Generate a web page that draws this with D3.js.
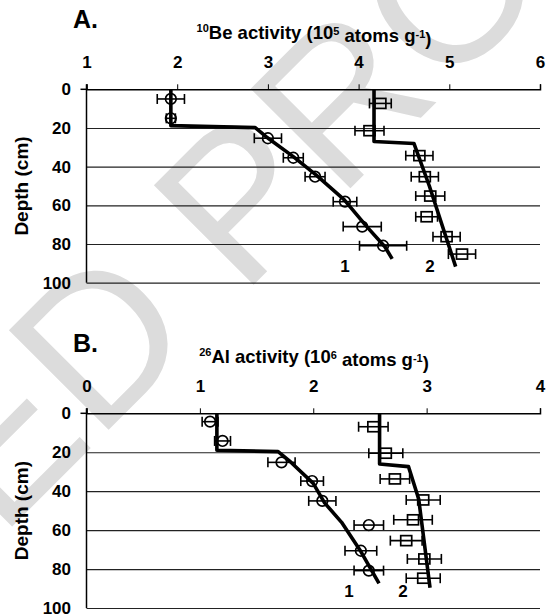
<!DOCTYPE html>
<meta charset='utf-8'>
<div id='chart'></div>
<style type='text/css'>
body { margin: 0; background: #fff; }
svg text { font-family: 'Liberation Sans', Arial, sans-serif; font-weight: bold; fill: #000; }
.tick line { stroke: #000; }
.grid .tick line { stroke: #222; stroke-width: 1.2; }
.grid .domain { display: none; }
</style>
<script src='https://d3js.org/d3.v7.min.js'></script>
<script>

  // depth ticks (cm), shared by both panels
  var depthTicks = [0, 20, 40, 60, 80, 100];

  // panel A: 10Be activity (10^5 atoms/g)
  var beTicks = [1, 2, 3, 4, 5, 6];
  var beProfile1 = [
    {depth: 5, value: 1.93, err: 0.15},
    {depth: 15, value: 1.93, err: 0.05},
    {depth: 25.3, value: 3.0, err: 0.15},
    {depth: 35.4, value: 3.28, err: 0.11},
    {depth: 45.2, value: 3.52, err: 0.11},
    {depth: 58.1, value: 3.85, err: 0.13},
    {depth: 71, value: 4.04, err: 0.21},
    {depth: 80.9, value: 4.27, err: 0.26}
  ];
  var beProfile2 = [
    {depth: 7.3, value: 4.24, err: 0.12},
    {depth: 21.4, value: 4.12, err: 0.16},
    {depth: 34.3, value: 4.67, err: 0.15},
    {depth: 45.2, value: 4.73, err: 0.15},
    {depth: 55.2, value: 4.79, err: 0.16},
    {depth: 65.9, value: 4.75, err: 0.12},
    {depth: 76.2, value: 4.97, err: 0.15},
    {depth: 85.2, value: 5.14, err: 0.15}
  ];
  var beModel1 = [[1.93, 0], [1.93, 18.8], [2.86, 19.8], [2.98, 24.5], [3.28, 34.8],
    [3.53, 44.3], [3.84, 57], [4.09, 71], [4.29, 81.4], [4.37, 87.7]];
  var beModel2 = [[4.17, 0], [4.17, 27], [4.61, 28], [4.78, 50], [5.07, 91.7]];

  // panel B: 26Al activity (10^6 atoms/g)
  var alTicks = [0, 1, 2, 3, 4];
  var alProfile1 = [
    {depth: 4.3, value: 1.09, err: 0.07},
    {depth: 14.2, value: 1.2, err: 0.07},
    {depth: 25.2, value: 1.72, err: 0.12},
    {depth: 34.8, value: 1.99, err: 0.1},
    {depth: 45, value: 2.08, err: 0.12},
    {depth: 57.4, value: 2.49, err: 0.13},
    {depth: 70.6, value: 2.42, err: 0.14},
    {depth: 80.8, value: 2.49, err: 0.13}
  ];
  var alProfile2 = [
    {depth: 6.9, value: 2.53, err: 0.13},
    {depth: 20.5, value: 2.64, err: 0.15},
    {depth: 33.7, value: 2.72, err: 0.13},
    {depth: 44.5, value: 2.97, err: 0.15},
    {depth: 54.7, value: 2.88, err: 0.17},
    {depth: 65.4, value: 2.82, err: 0.14},
    {depth: 74.8, value: 2.98, err: 0.15},
    {depth: 84.7, value: 2.97, err: 0.15}
  ];
  var alModel1 = [[1.15, 0], [1.15, 19], [1.69, 19.7], [1.8, 25], [2.0, 36], [2.1, 46],
    [2.25, 56], [2.42, 71], [2.58, 87.3]];
  var alModel2 = [[2.585, 0], [2.585, 26], [2.84, 27.4], [2.93, 44], [3.03, 89.6]];

  var svg = d3.select('#chart')
    .append('svg')
      .attr('width', 549)
      .attr('height', 615);

  // faint proof watermark behind the charts
  svg.append('g')
      .attr('transform', 'translate(238,196) rotate(-45)')
    .append('text')
      .attr('x', -1720)
      .attr('y', 74)
      .style('font-weight', 'normal')
      .style('font-size', '205px')
      .style('fill', '#dcdcdc')
      .text('UNCORRECTED PROOF');

  function drawPanel(cfg) {
    var left = 86.5, right = 540;
    var x = d3.scaleLinear().domain(cfg.domain).range([left, right]);
    var y = d3.scaleLinear().domain([0, 100]).range([cfg.top, cfg.bottom]);
    var g = svg.append('g');

    // horizontal gridlines
    g.append('g')
      .attr('class', 'grid')
      .attr('transform', 'translate(' + left + ',0)')
      .call(d3.axisLeft(y).tickValues(depthTicks.slice(1)).tickSize(-(right - left)).tickFormat(''));

    // top axis
    var top = g.append('g')
      .attr('transform', 'translate(0,' + cfg.top + ')')
      .call(d3.axisTop(x).tickValues(cfg.ticks).tickSize(5).tickPadding(16).tickFormat(d3.format('d')));
    top.select('.domain').attr('stroke', '#000').attr('stroke-width', 1.5);
    top.selectAll('text').style('font-size', '17px');

    // left axis
    var ax = g.append('g')
      .attr('transform', 'translate(' + left + ',0)')
      .call(d3.axisLeft(y).tickValues(depthTicks).tickSize(0).tickPadding(15.5).tickSizeOuter(0));
    ax.select('.domain').remove();
    ax.selectAll('text').style('font-size', '17px');
    g.append('line')
      .attr('x1', left).attr('x2', left)
      .attr('y1', cfg.top - 5).attr('y2', cfg.bottom)
      .attr('stroke', '#000').attr('stroke-width', 1.5);
    g.append('line')
      .attr('x1', left - 6).attr('x2', left)
      .attr('y1', y(0)).attr('y2', y(0))
      .attr('stroke', '#000').attr('stroke-width', 1.5);

    // panel letter, title and depth label
    g.append('text')
      .attr('x', 73).attr('y', cfg.top - 61)
      .style('font-size', '25px')
      .text(cfg.letter);
    var t = g.append('text')
      .attr('x', 314).attr('y', cfg.top - 53)
      .attr('text-anchor', 'middle')
      .style('font-size', '18.5px');
    t.append('tspan').attr('dy', '-0.4em').style('font-size', '11px').text(cfg.isotope[0]);
    t.append('tspan').attr('dy', '0.4em').text(cfg.isotope[1] + ' activity (10');
    t.append('tspan').attr('dy', '-0.4em').style('font-size', '11px').text(cfg.power);
    t.append('tspan').attr('dy', '0.4em').text(' atoms g');
    t.append('tspan').attr('dy', '-0.4em').style('font-size', '11px').text('-1');
    t.append('tspan').attr('dy', '0.4em').text(')');
    g.append('text')
      .attr('transform', 'translate(27.5,' + (cfg.top + cfg.bottom) / 2 + ') rotate(-90)')
      .attr('text-anchor', 'middle')
      .style('font-size', '19px')
      .text('Depth (cm)');

    // error bars and markers
    var all = [cfg.s1, cfg.s2];
    all.forEach(function(series, si) {
      var eb = g.append('g').attr('stroke', '#000').attr('stroke-width', 1.6);
      series.forEach(function(d) {
        var yy = y(d.depth), x0 = x(d.value - d.err), x1 = x(d.value + d.err);
        eb.append('line').attr('x1', x0).attr('x2', x1).attr('y1', yy).attr('y2', yy);
        eb.append('line').attr('x1', x0).attr('x2', x0).attr('y1', yy - 5).attr('y2', yy + 5);
        eb.append('line').attr('x1', x1).attr('x2', x1).attr('y1', yy - 5).attr('y2', yy + 5);
      });
      if (si === 0) {
        g.selectAll(null)
          .data(series)
          .enter()
          .append('circle')
            .attr('cx', function(d) { return x(d.value); })
            .attr('cy', function(d) { return y(d.depth); })
            .attr('r', 5.3)
            .attr('fill', 'none')
            .attr('stroke', '#000')
            .attr('stroke-width', 1.7);
      } else {
        g.selectAll(null)
          .data(series)
          .enter()
          .append('rect')
            .attr('x', function(d) { return x(d.value) - 5.5; })
            .attr('y', function(d) { return y(d.depth) - 5; })
            .attr('width', 11)
            .attr('height', 10)
            .attr('fill', 'none')
            .attr('stroke', '#000')
            .attr('stroke-width', 1.7);
      }
    });

    // model curves
    var line = d3.line()
      .x(function(d) { return x(d[0]); })
      .y(function(d) { return y(d[1]); });
    [cfg.m1, cfg.m2].forEach(function(m) {
      g.append('path')
        .attr('d', line(m))
        .attr('fill', 'none')
        .attr('stroke', '#000')
        .attr('stroke-width', 3.6)
        .attr('stroke-linejoin', 'round');
    });

    g.append('text')
      .attr('x', cfg.label1).attr('y', cfg.bottom - 11)
      .attr('text-anchor', 'middle')
      .style('font-size', '17px')
      .text('1');
    g.append('text')
      .attr('x', cfg.label2).attr('y', cfg.bottom - 11)
      .attr('text-anchor', 'middle')
      .style('font-size', '17px')
      .text('2');
  }

  drawPanel({
    top: 89.3, bottom: 282.7, domain: [1, 6], ticks: beTicks, letter: 'A.',
    isotope: ['10', 'Be'], power: '5',
    s1: beProfile1, s2: beProfile2, m1: beModel1, m2: beModel2,
    label1: 345, label2: 430
  });
  drawPanel({
    top: 413.3, bottom: 608, domain: [0, 4], ticks: alTicks, letter: 'B.',
    isotope: ['26', 'Al'], power: '6',
    s1: alProfile1, s2: alProfile2, m1: alModel1, m2: alModel2,
    label1: 349, label2: 403
  });

</script>
